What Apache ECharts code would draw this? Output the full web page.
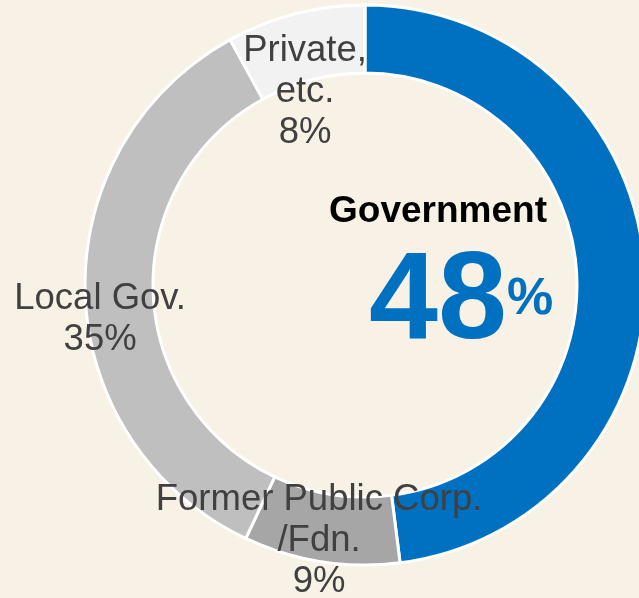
<!DOCTYPE html>
<html>
<head>
<meta charset="utf-8">
<script src="https://cdn.jsdelivr.net/npm/echarts@6/dist/echarts.min.js"></script>
<style>
html,body{margin:0;padding:0;background:#f7f1e6;}
#chart{width:639px;height:598px;}
</style>
</head>
<body>
<div id="chart"></div>
<script>
const categories = ['Government', 'Former Public Corp.\n/Fdn.', 'Local Gov.', 'Private,\netc.'];
const values = [48, 9, 35, 8];
const sliceColors = ['#0070c0', '#a6a6a6', '#bfbfbf', '#f2f2f2'];
const labelOffsets = [[0, 0], [-7, 10], [-16, 27], [2, 48]];

const chart = echarts.init(document.getElementById('chart'));
const data = categories.map((c, i) => ({
  name: c,
  value: values[i],
  itemStyle: { color: sliceColors[i] },
  label: { show: i !== 0, offset: labelOffsets[i] }
}));

chart.setOption({
  backgroundColor: '#f7f1e6',
  animation: false,
  series: [{
    type: 'pie',
    center: [365, 285],
    radius: [212, 280],
    startAngle: 90,
    clockwise: true,
    avoidLabelOverlap: false,
    itemStyle: { borderColor: '#ffffff', borderWidth: 3 },
    label: {
      position: 'inside',
      formatter: p => p.name + '\n' + p.value + '%',
      color: '#404040',
      fontFamily: 'Liberation Sans, Arial, sans-serif',
      fontSize: 36.5,
      lineHeight: 41,
      align: 'center'
    },
    labelLine: { show: false },
    emphasis: { disabled: true },
    data: data
  }],
  graphic: [
    {
      type: 'text',
      x: 438, y: 230,
      style: {
        text: categories[0],
        fill: '#000000',
        font: 'bold 37px "Liberation Sans", Arial, sans-serif',
        textAlign: 'center',
        textVerticalAlign: 'bottom'
      }
    },
    {
      type: 'text',
      x: 507, y: 366,
      style: {
        text: String(values[0]),
        fill: '#0070c0',
        font: 'bold 124px "Liberation Sans", Arial, sans-serif',
        textAlign: 'right',
        textVerticalAlign: 'bottom'
      }
    },
    {
      type: 'text',
      x: 507, y: 326,
      style: {
        text: '%',
        fill: '#0070c0',
        font: 'bold 52px "Liberation Sans", Arial, sans-serif',
        textAlign: 'left',
        textVerticalAlign: 'bottom'
      }
    }
  ]
});
</script>
</body>
</html>
